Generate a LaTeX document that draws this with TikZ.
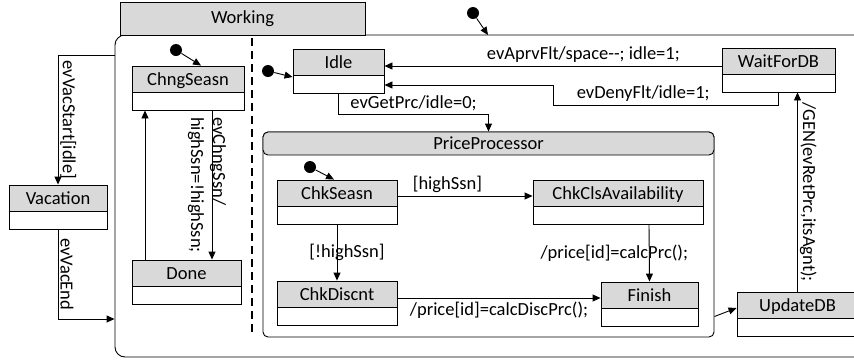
\documentclass[tikz,border=0pt]{standalone}
\usepackage{fontspec}
\setmainfont{Carlito}
\usetikzlibrary{arrows.meta, calc, positioning}
\definecolor{hdrgray}{RGB}{217,217,217}

\tikzset{
  arr/.style={-{Triangle[length=8pt,width=7pt]}},
  initdot/.style={fill, circle, inner sep=0pt, minimum size=12pt},
  statebox/.style={draw, rectangle, inner xsep=2pt, inner ysep=2pt,
    text height=17pt, text depth=23pt,
    path picture={
      \fill[hdrgray] (path picture bounding box.north west) rectangle ([yshift=-26pt]path picture bounding box.north east);
      \draw ([yshift=-26pt]path picture bounding box.north west) -- ([yshift=-26pt]path picture bounding box.north east);
    }},
  rotlbl/.style={rotate=-90, anchor=south, inner sep=2pt},
}

\begin{document}
\begin{tikzpicture}[x=1pt, y=-1pt, line width=0.9pt,
    font=\fontsize{18.5}{22}\selectfont]
  \useasboundingbox (0,0) rectangle (854,360);
  \clip (0,0) rectangle (854,360);

  % composite state Working
  \node[draw, rounded corners=10pt, minimum width=755pt, minimum height=322pt, inner sep=0pt] (workbox) at (492.5,196) {};
  \node[draw, fill=hdrgray, minimum width=245pt, minimum height=33pt, inner sep=0pt] (worktab) at (242.5,18.5) {Working};
  \draw[line width=1.6pt, dash pattern=on 8pt off 5pt] (252,38) -- (252,333);

  % PriceProcessor
  \node[draw, rounded corners=5pt, minimum width=451pt, minimum height=205pt, inner sep=0pt] (pproc) at (488.5,234.5) {};
  \node[draw, fill=hdrgray, rounded corners=5pt, minimum width=451pt, minimum height=23pt, inner sep=0pt, anchor=north] (pphdr) at (pproc.north) {PriceProcessor};

  % states
  \node[statebox, minimum width=98pt]  (vacation)  at (58,207)    {Vacation};
  \node[statebox, minimum width=112pt] (chngseasn) at (188,88)    {ChngSeasn};
  \node[statebox, minimum width=109pt] (done)      at (186.5,282) {Done};
  \node[statebox, minimum width=91pt]  (idle)      at (338.5,71)  {Idle};
  \node[statebox, minimum width=113pt] (waitdb)    at (778.5,70)  {WaitForDB};
  \node[statebox, minimum width=120pt] (chkseasn)  at (337,202)   {ChkSeasn};
  \node[statebox, minimum width=170pt] (chkcls)    at (618,202)   {ChkClsAvailability};
  \node[statebox, minimum width=120pt] (chkdisc)   at (337,303)   {ChkDiscnt};
  \node[statebox, minimum width=97pt]  (finish)    at (649.5,304) {Finish};
  \node[statebox, minimum width=121pt] (updatedb)  at (797.5,314) {UpdateDB};

  % initial states
  \node[initdot] (init0) at (473,13) {};
  \node[initdot] (init1) at (176,50) {};
  \node[initdot] (init2) at (268,71) {};
  \node[initdot] (init3) at (310,167) {};
  \coordinate (wtop) at (488,35);
  \draw[arr] (init0) -- (wtop);
  \draw[arr] (init1) -- ([xshift=13pt]chngseasn.north);
  \draw[arr] (init2) -- ([yshift=-6pt]idle.west);
  \draw[arr] (init3) -- ([xshift=-3pt]chkseasn.north);

  % transitions
  \draw[arr] ([yshift=141pt]workbox.west) -| node[rotlbl, pos=0.75] {evVacStart[idle]} (vacation.north);
  \draw[arr] (vacation.south) |- node[rotlbl, pos=0.25] {evVacEnd} ([yshift=-123pt]workbox.west);

  \draw[arr] ([xshift=-41.5pt]done.north) -- ([xshift=-43pt]chngseasn.south);
  \draw[arr] ([xshift=24pt]chngseasn.south) -- ([xshift=25.5pt]done.north);
  \node[rotate=-90, align=left, inner sep=0pt] (lblchng) at (207,185) {evChngSsn/\\highSsn=!highSsn;};

  \draw[arr] ([yshift=4pt]waitdb.west) -- node[above, pos=0.41] {evAprvFlt/space{-}{-}; idle=1;} ([yshift=4pt]waitdb.west -| idle.east);
  \draw[arr] (waitdb.south) |- node[above, pos=0.8] {evDenyFlt/idle=1;} (553,105) -- (553,85) -- ([yshift=-14pt]idle.east);
  \draw[arr] (idle.south) |- node[above, pos=0.75] {evGetPrc/idle=0;} ([yshift=17pt]pphdr.north) -- (pphdr.north);

  \draw[arr] ([yshift=6pt]chkseasn.east) -- node[above, pos=0.37] {[highSsn]} ([yshift=6pt]chkseasn.east -| chkcls.west);
  \draw[arr] (chkseasn.south) -- node[midway, xshift=10pt] {[!highSsn]} (chkdisc.north);
  \draw[arr] ([xshift=31pt]chkcls.south) -- node[midway, xshift=-35pt] {/price[id]=calcPrc();} (finish.north);
  \draw[arr] ([yshift=5pt]chkdisc.east) -- node[below, midway] {/price[id]=calcDiscPrc();} ([yshift=5pt]chkdisc.east -| finish.west);

  \draw[arr] ([yshift=-82pt]pproc.east) -- ([yshift=6pt]updatedb.west);
  \draw[arr] (updatedb.north) -- node[rotlbl, midway] {/GEN(evRetPrc,itsAgnt);} (updatedb.north |- waitdb.south);
\end{tikzpicture}
\end{document}
